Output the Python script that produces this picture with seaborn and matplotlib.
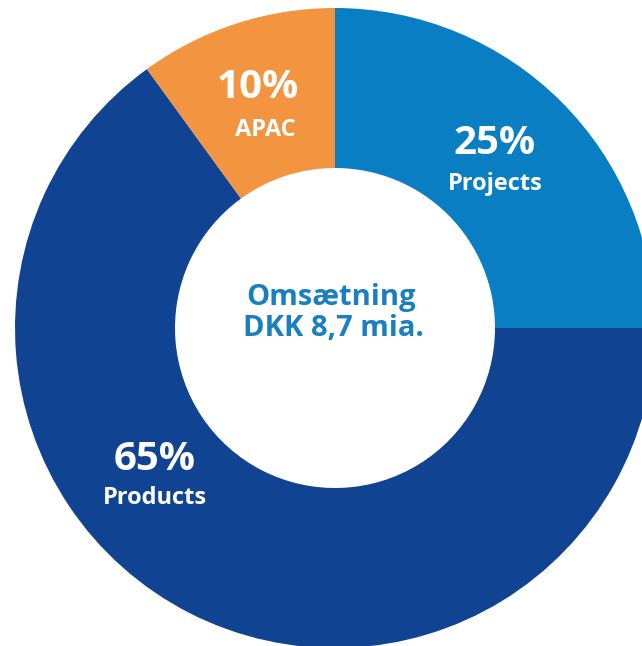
import matplotlib
matplotlib.use("Agg")
import matplotlib.pyplot as plt
import seaborn as sns

labels = ['Projects', 'Products', 'APAC']
shares = [25, 65, 10]
pct_text = ['25%', '65%', '10%']
colors = ['#0A7EC2', '#104391', '#F39441']
center_lines = ['Omsætning', 'DKK 8,7 mia.']

sns.set_theme(style="white")
plt.rcParams['font.family'] = ['Open Sans', 'DejaVu Sans']

fig = plt.figure(figsize=(6.42, 6.46), dpi=100)
ax = fig.add_axes([0, 0, 1, 1])

cx, cy, r = 335, 646 - 328, 320
ax.pie(shares, colors=colors, startangle=90, counterclock=False,
       center=(cx, cy), radius=r, frame=True,
       wedgeprops=dict(width=r * 0.5, linewidth=0))
ax.set_xlim(0, 642)
ax.set_ylim(0, 646)
ax.set_aspect('equal')
ax.axis('off')

# label positions in pixel coords (from top)
pos = {'Projects': (495, 144, 184), 'Products': (155, 460, 498), 'APAC': (258, 88, 130)}
for lab, pct in zip(labels, pct_text):
    x, y1, y2 = pos[lab]
    ax.text(x, 646 - y1, pct, color='white', fontsize=29, fontweight='bold',
            ha='center', va='center')
    ax.text(x + (7 if lab == 'APAC' else 0), 646 - y2, lab, color='white',
            fontsize=17, fontweight='bold', ha='center', va='center')

ax.text(331, 646 - 297, center_lines[0], color='#1A7EC3', fontsize=21,
        fontweight='bold', ha='center', va='center')
ax.text(333, 646 - 329, center_lines[1], color='#1A7EC3', fontsize=21,
        fontweight='bold', ha='center', va='center')

fig.savefig('out.png', dpi=100, facecolor='white')
